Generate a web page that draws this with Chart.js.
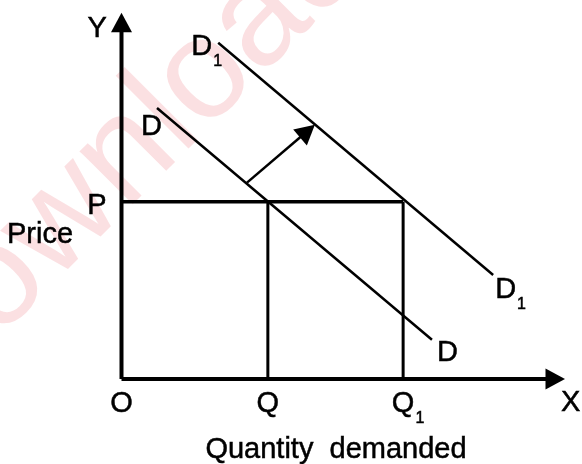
<!DOCTYPE html>
<html><head><meta charset="utf-8">
<script src="https://cdn.jsdelivr.net/npm/chart.js@4/dist/chart.umd.min.js"></script>
<style>html,body{margin:0;padding:0;background:#fff;} #wrap{width:582px;height:464px;position:relative;}</style>
</head><body><div id="wrap"><canvas id="c" width="582" height="464"></canvas></div>
<script>
// ---- data (schematic units, origin O = 0,0) ----
const axisMax = 100;
const priceP = 48.4;
const qtyQ = 33.0;
const qtyQ1 = 63.5;
const dX = [8.0, 70.0];
const dY = [74.0, 10.7];
const d1X = [21.8, 83.8];
const d1Y = [91.8, 28.4];
const shiftX = [28.3, 43.6];
const shiftY = [53.6, 69.4];
const xTickValues = [0, qtyQ, qtyQ1];
const xTickLabels = ['O', 'Q', 'Q'];
const xTickSubs = ['', '', '1'];
const yTickValues = [priceP];
const yTickLabels = ['P'];
const xAxisName = 'X';
const yAxisName = 'Y';
const xTitle = 'Quantity  demanded';
const yTitle = 'Price';
const curveNames = ['D', 'D'];
const curveSubs = ['', '1'];
const watermark = 'Downloaded';

const FONT = '"Liberation Sans", Arial, Helvetica, sans-serif';
const pts = (xs, ys) => xs.map((x, i) => ({x, y: ys[i]}));

function drawLabel(ctx, main, sub, x, y, align) {
  ctx.font = '29px ' + FONT;
  ctx.textBaseline = 'alphabetic';
  ctx.textAlign = 'left';
  ctx.lineWidth = 0.5;
  ctx.strokeStyle = '#000';
  const w = ctx.measureText(main).width;
  let left = x;
  if (align === 'center') left = x - w / 2;
  ctx.fillText(main, left, y);
  ctx.strokeText(main, left, y);
  if (sub) {
    ctx.font = '16px ' + FONT;
    ctx.fillText(sub, left + w + 1, y + 11);
    ctx.strokeText(sub, left + w + 1, y + 11);
  }
}

const arrowPlugin = {
  id: 'arrows',
  beforeDatasetDraw(chart, args) {
    const ds = chart.data.datasets[args.index];
    if (!ds.arrow) return;
    const p = args.meta.data;
    const a = p[p.length - 2], b = p[p.length - 1];
    if (b._tip === undefined) b._tip = {x: b.x, y: b.y};
    const dx = b._tip.x - a.x, dy = b._tip.y - a.y, L = Math.hypot(dx, dy);
    b.x = b._tip.x - dx / L * 12;
    b.y = b._tip.y - dy / L * 12;
    args.meta.dataset._path = undefined;
  },
  afterDatasetDraw(chart, args) {
    const ds = chart.data.datasets[args.index];
    if (!ds.arrow) return;
    const p = args.meta.data;
    const a = p[p.length - 2], b = p[p.length - 1];
    const tip = b._tip;
    b.x = tip.x; b.y = tip.y; b._tip = undefined;
    const dx = tip.x - a.x, dy = tip.y - a.y, L = Math.hypot(dx, dy);
    const ux = dx / L, uy = dy / L;
    const len = 19.5, hw = 10.5;
    const bx = tip.x - ux * len, by = tip.y - uy * len;
    const ctx = chart.ctx;
    ctx.save();
    ctx.fillStyle = ds.borderColor;
    ctx.beginPath();
    ctx.moveTo(tip.x, tip.y);
    ctx.lineTo(bx - uy * hw, by + ux * hw);
    ctx.lineTo(bx + uy * hw, by - ux * hw);
    ctx.closePath();
    ctx.fill();
    ctx.restore();
  }
};

const bgPlugin = {
  id: 'bg',
  beforeDraw(chart) {
    const ctx = chart.ctx;
    ctx.save();
    ctx.fillStyle = '#ffffff';
    ctx.fillRect(0, 0, chart.width, chart.height);
    // faint watermark
    ctx.translate(-75, 412);
    ctx.rotate(-45 * Math.PI / 180);
    ctx.font = '142px ' + FONT;
    ctx.fillStyle = 'rgba(236,90,100,0.19)';
    ctx.textBaseline = 'alphabetic';
    ctx.fillText(watermark, 0, 0);
    ctx.restore();
  }
};

const labelPlugin = {
  id: 'labels',
  afterDraw(chart) {
    const ctx = chart.ctx, xs = chart.scales.x, ys = chart.scales.y;
    ctx.save();
    ctx.fillStyle = '#000';
    const x0 = xs.getPixelForValue(0), y0 = ys.getPixelForValue(0);
    // x ticks
    xTickValues.forEach((v, i) => {
      drawLabel(ctx, xTickLabels[i], xTickSubs[i], xs.getPixelForValue(v), y0 + 33, 'center');
    });
    // y ticks
    yTickValues.forEach((v, i) => {
      ctx.font = '29px ' + FONT;
      const w = ctx.measureText(yTickLabels[i]).width;
      drawLabel(ctx, yTickLabels[i], '', x0 - 15 - w, ys.getPixelForValue(v) + 12, 'left');
    });
    // axis names
    drawLabel(ctx, yAxisName, '', x0 - 34, ys.getPixelForValue(axisMax) + 24, 'left');
    drawLabel(ctx, xAxisName, '', xs.getPixelForValue(axisMax) - 4, y0 + 32, 'left');
    // titles
    drawLabel(ctx, yTitle, '', 7, ys.getPixelForValue(priceP) + 41, 'left');
    drawLabel(ctx, xTitle, '', 336, 458, 'center');
    // curve labels
    const dS = {x: xs.getPixelForValue(dX[0]), y: ys.getPixelForValue(dY[0])};
    const dE = {x: xs.getPixelForValue(dX[1]), y: ys.getPixelForValue(dY[1])};
    const d1S = {x: xs.getPixelForValue(d1X[0]), y: ys.getPixelForValue(d1Y[0])};
    const d1E = {x: xs.getPixelForValue(d1X[1]), y: ys.getPixelForValue(d1Y[1])};
    drawLabel(ctx, curveNames[0], curveSubs[0], dS.x - 16, dS.y + 27, 'left');
    drawLabel(ctx, curveNames[0], curveSubs[0], dE.x + 5, dE.y + 21, 'left');
    drawLabel(ctx, curveNames[1], curveSubs[1], d1S.x - 27, d1S.y + 12, 'left');
    drawLabel(ctx, curveNames[1], curveSubs[1], d1E.x + 2, d1E.y + 23, 'left');
    ctx.restore();
  }
};

const lineDs = (data, width, arrow) => ({
  data, borderColor: '#000', borderWidth: width, pointRadius: 0, pointHoverRadius: 0,
  fill: false, tension: 0, clip: false, arrow: !!arrow, borderCapStyle: 'butt'
});

new Chart(document.getElementById('c'), {
  type: 'line',
  data: {
    datasets: [
      lineDs(pts([qtyQ, qtyQ], [0, priceP]), 3),
      lineDs(pts([qtyQ1, qtyQ1], [0, priceP]), 3),
      lineDs(pts([0, qtyQ1], [priceP, priceP]), 3.5),
      lineDs(pts(dX, dY), 2.5),
      lineDs(pts(d1X, d1Y), 2.5),
      lineDs(pts(shiftX, shiftY), 2.5, true),
      lineDs(pts([0, axisMax], [0, 0]), 4, true),
      lineDs(pts([0, 0], [0, axisMax]), 4, true)
    ]
  },
  options: {
    responsive: false,
    animation: false,
    events: [],
    layout: {padding: {left: 121.5, right: 17, top: 12.7, bottom: 85}},
    scales: {
      x: {type: 'linear', min: 0, max: axisMax, display: false},
      y: {type: 'linear', min: 0, max: axisMax, display: false}
    },
    plugins: {legend: {display: false}, tooltip: {enabled: false}, title: {display: false}}
  },
  plugins: [bgPlugin, arrowPlugin, labelPlugin]
});
</script>
</body></html>
